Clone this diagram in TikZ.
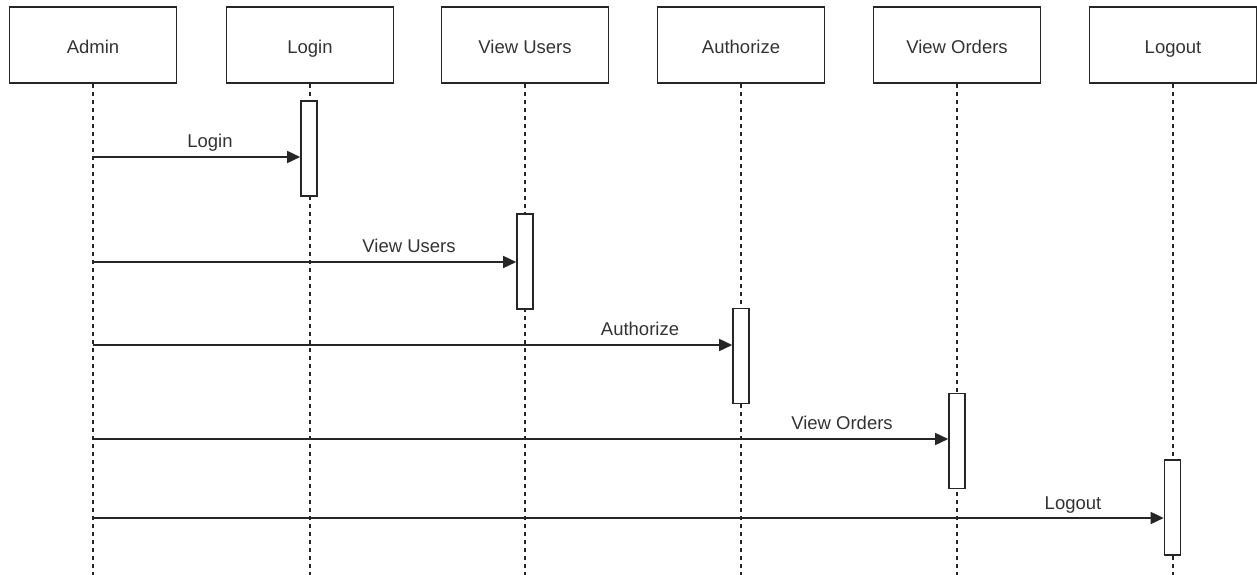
\documentclass[tikz,border=0pt]{standalone}
\usepackage{fontspec}
\setmainfont{Liberation Sans}
\usetikzlibrary{arrows.meta}
\begin{document}
\begin{tikzpicture}[x=1pt,y=-1pt,
  objbox/.style={draw=black!85, line width=1.6pt, minimum width=167pt, minimum height=76pt, inner sep=0pt, text height=17pt, text depth=0pt, font=\fontsize{18.5}{22}\selectfont, text=black!80},
  lifeline/.style={draw=black!85, line width=1.4pt, dash pattern=on 4pt off 4pt},
  actbox/.style={draw=black!85, fill=white, line width=1.6pt, minimum width=16pt, minimum height=95pt, inner sep=0pt},
  msg/.style={draw=black!85, line width=1.5pt, -{Triangle[length=13pt,width=12pt]}},
  msglabel/.style={font=\fontsize{18.5}{22}\selectfont, text=black!80, inner sep=0pt, anchor=base}
]
\useasboundingbox (0,0) rectangle (1257,575);
% objects
\node[objbox] (admin) at (93,45) {Admin};
\node[objbox] (login) at (310,45) {Login};
\node[objbox] (users) at (525,45) {View Users};
\node[objbox] (auth) at (741,45) {Authorize};
\node[objbox] (orders) at (957,45) {View Orders};
\node[objbox] (logout) at (1173,45) {Logout};
% lifeline ends
\coordinate (adminE) at (93,575);
\coordinate (loginE) at (310,575);
\coordinate (usersE) at (525,575);
\coordinate (authE) at (741,575);
\coordinate (ordersE) at (957,575);
\coordinate (logoutE) at (1173,575);
\draw[lifeline] (admin.south) -- (adminE);
\draw[lifeline] (login.south) -- (loginE);
\draw[lifeline] (users.south) -- (usersE);
\draw[lifeline] (auth.south) -- (authE);
\draw[lifeline] (orders.south) -- (ordersE);
\draw[lifeline] (logout.south) -- (logoutE);
% activations
\node[actbox] (act1) at (309,148.5) {};
\node[actbox] (act2) at (525,261.5) {};
\node[actbox] (act3) at (741,356) {};
\node[actbox] (act4) at (957,441) {};
\node[actbox] (act5) at (1172.5,507.5) {};
% message start points on Admin lifeline
\coordinate (m1) at (93,157);
\coordinate (m2) at (93,262);
\coordinate (m3) at (93,345);
\coordinate (m4) at (93,439);
\coordinate (m5) at (93,518);
\draw[msg] (m1) -- (act1.west |- m1);
\draw[msg] (m2) -- (act2.west |- m2);
\draw[msg] (m3) -- (act3.west |- m3);
\draw[msg] (m4) -- (act4.west |- m4);
\draw[msg] (m5) -- (act5.west |- m5);
% labels
\node[msglabel] (l1) at (210,147) {Login};
\node[msglabel] (l2) at (409,252) {View Users};
\node[msglabel] (l3) at (640,335) {Authorize};
\node[msglabel] (l4) at (842,429) {View Orders};
\node[msglabel] (l5) at (1073,509) {Logout};
\end{tikzpicture}
\end{document}
